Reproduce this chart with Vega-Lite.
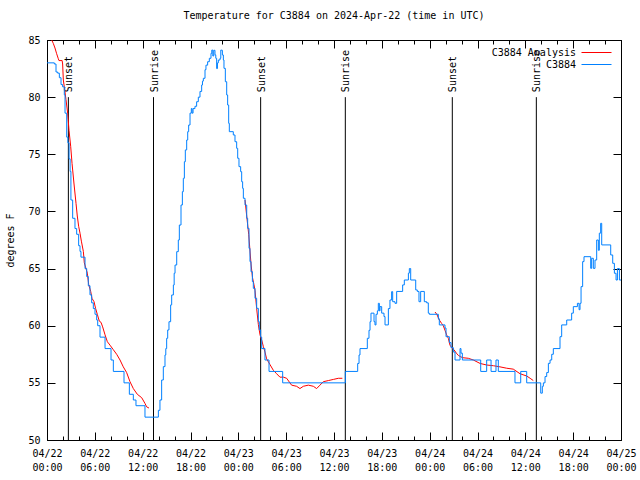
{
  "$schema": "https://vega.github.io/schema/vega-lite/v6.json",
  "width": 574,
  "height": 400,
  "autosize": {"type": "none"},
  "padding": {"left": 47, "top": 40, "right": 19, "bottom": 40},
  "title": {"text": "Temperature for C3884 on 2024-Apr-22 (time in UTC)", "font": "DejaVu Sans Mono", "fontSize": 10, "fontWeight": "normal", "offset": 14, "color": "black"},
  "config": {
    "view": {"stroke": "black", "strokeWidth": 1},
    "axis": {"grid": false, "domainColor": "black", "tickColor": "black", "labelColor": "black", "titleColor": "black", "labelFont": "DejaVu Sans Mono", "labelFontSize": 10, "titleFont": "DejaVu Sans Mono", "titleFontSize": 10, "titleFontWeight": "normal"},
    "legend": {"orient": "top-right", "offset": 7, "symbolType": "M-3,0H3", "symbolSize": 100, "symbolStrokeWidth": 1, "labelAlign": "right", "labelOffset": -26, "labelFont": "DejaVu Sans Mono", "labelFontSize": 10, "labelColor": "black", "title": null, "padding": 0, "rowPadding": 1}
  },
  "datasets": {
    "obs": [
      {"h":0,"T":83.0},{"h":0.92,"T":82.9},{"h":1.13,"T":82.2},{"h":1.34,"T":82.1},{"h":1.55,"T":81.7},{"h":1.76,"T":81.1},{"h":1.96,"T":80.9},{"h":2.17,"T":80.2},{"h":2.26,"T":78.6},{"h":2.47,"T":76.5},{"h":2.62,"T":76.0},{"h":2.77,"T":74.6},{"h":2.9,"T":73.5},{"h":3.0,"T":71.0},{"h":3.22,"T":69.4},{"h":3.51,"T":68.5},{"h":3.72,"T":68.0},{"h":3.97,"T":67.0},{"h":4.14,"T":66.5},{"h":4.26,"T":66.0},{"h":4.77,"T":65.0},{"h":4.98,"T":64.3},{"h":5.18,"T":63.5},{"h":5.39,"T":62.7},{"h":5.6,"T":62.0},{"h":5.81,"T":61.5},{"h":6.02,"T":61.0},{"h":6.23,"T":60.5},{"h":6.36,"T":60.0},{"h":6.65,"T":59.0},{"h":7.28,"T":58.0},{"h":8.03,"T":57.0},{"h":8.32,"T":56.0},{"h":9.66,"T":55.0},{"h":10.33,"T":54.0},{"h":10.83,"T":53.5},{"h":11.16,"T":53.0},{"h":12.29,"T":52.0},
      {"h":13.97,"T":52.6},{"h":14.17,"T":53.5},{"h":14.38,"T":55.25},{"h":14.59,"T":56.42},{"h":14.8,"T":57.44},{"h":14.9,"T":58.0},{"h":15.01,"T":58.9},{"h":15.14,"T":59.63},{"h":15.3,"T":60.35},{"h":15.51,"T":61.82},{"h":15.64,"T":62.69},{"h":15.85,"T":63.56},{"h":15.95,"T":64.59},{"h":16.06,"T":65.31},{"h":16.27,"T":66.48},{"h":16.47,"T":67.5},{"h":16.6,"T":68.81},{"h":16.81,"T":70.56},{"h":16.98,"T":71.73},{"h":17.1,"T":72.9},{"h":17.23,"T":74.35},{"h":17.35,"T":75.38},{"h":17.52,"T":76.25},{"h":17.65,"T":76.98},{"h":17.77,"T":77.56},{"h":17.94,"T":78.6},{"h":18.1,"T":79.0},{"h":18.2,"T":78.6},{"h":18.32,"T":79.0},{"h":18.56,"T":79.2},{"h":18.77,"T":79.6},{"h":18.98,"T":80.0},{"h":19.19,"T":80.5},{"h":19.4,"T":81.06},{"h":19.5,"T":81.4},{"h":19.61,"T":81.65},{"h":19.82,"T":82.4},{"h":19.94,"T":82.8},{"h":20.15,"T":83.1},{"h":20.36,"T":83.4},{"h":20.57,"T":83.83},{"h":20.67,"T":84.12},{"h":20.8,"T":83.6},{"h":20.92,"T":84.1},{"h":21.07,"T":83.7},{"h":21.17,"T":83.4},{"h":21.28,"T":82.5},{"h":21.38,"T":83.0},{"h":21.49,"T":83.25},{"h":21.7,"T":83.4},{"h":21.8,"T":84.12},{"h":21.91,"T":84.1},{"h":22.0,"T":83.69},{"h":22.12,"T":83.25},{"h":22.2,"T":82.52},{"h":22.37,"T":81.35},{"h":22.54,"T":80.19},{"h":22.66,"T":79.31},{"h":22.79,"T":77.71},{"h":22.87,"T":76.98},{"h":23.37,"T":76.69},{"h":23.58,"T":76.1},{"h":23.79,"T":75.52},{"h":23.92,"T":74.65},{"h":24.08,"T":73.92},{"h":24.29,"T":73.48},{"h":24.42,"T":72.6},{"h":24.54,"T":72.02},{"h":24.63,"T":71.15},{"h":24.84,"T":70.56},{"h":25.05,"T":69.4},{"h":25.17,"T":68.52},{"h":25.34,"T":66.77},{"h":25.46,"T":65.61},{"h":25.59,"T":64.73},{"h":25.76,"T":63.86},{"h":25.88,"T":63.27},{"h":26.09,"T":62.4},{"h":26.3,"T":61.52},{"h":26.51,"T":60.36},{"h":26.63,"T":59.63},{"h":26.8,"T":59.0},{"h":26.93,"T":58.0},{"h":27.34,"T":57.0},{"h":27.85,"T":56.0},{"h":29.56,"T":55.0},
      {"h":37.42,"T":56.0},{"h":38.97,"T":56.7},{"h":39.14,"T":57.44},{"h":39.26,"T":58.0},{"h":40.18,"T":58.9},{"h":40.39,"T":59.6},{"h":40.52,"T":60.35},{"h":40.64,"T":61.1},{"h":41.02,"T":60.35},{"h":41.14,"T":60.07},{"h":41.27,"T":61.0},{"h":41.44,"T":61.3},{"h":41.56,"T":61.96},{"h":41.69,"T":61.3},{"h":41.77,"T":61.67},{"h":41.98,"T":61.1},{"h":42.27,"T":60.8},{"h":42.4,"T":60.07},{"h":42.82,"T":61.5},{"h":43.02,"T":62.25},{"h":43.23,"T":62.98},{"h":43.36,"T":62.1},{"h":43.65,"T":61.96},{"h":43.86,"T":63.0},{"h":44.61,"T":63.57},{"h":44.82,"T":64.0},{"h":45.33,"T":64.6},{"h":45.45,"T":65.0},{"h":45.62,"T":64.0},{"h":46.25,"T":63.13},{"h":46.45,"T":63.0},{"h":46.66,"T":62.1},{"h":46.87,"T":63.0},{"h":47.33,"T":62.1},{"h":47.62,"T":62.0},{"h":47.83,"T":61.1},{"h":47.96,"T":61.0},{"h":49.09,"T":60.6},{"h":49.21,"T":60.07},{"h":49.92,"T":59.8},{"h":50.05,"T":59.04},{"h":50.47,"T":58.52},{"h":50.68,"T":58.08},{"h":50.97,"T":57.7},{"h":51.18,"T":57.0},{"h":51.81,"T":58.0},{"h":51.93,"T":57.6},{"h":52.1,"T":57.0},{"h":54.4,"T":56.0},{"h":55.15,"T":57.0},{"h":55.7,"T":56.0},{"h":56.32,"T":57.0},{"h":56.61,"T":56.0},{"h":58.7,"T":55.0},{"h":59.42,"T":56.0},{"h":60.17,"T":55.0},
      {"h":61.93,"T":54.1},{"h":62.13,"T":54.7},{"h":62.26,"T":55.0},{"h":62.47,"T":55.55},{"h":62.68,"T":55.9},{"h":62.89,"T":56.71},{"h":63.1,"T":57.0},{"h":63.31,"T":57.5},{"h":63.51,"T":58.0},{"h":64.35,"T":59.04},{"h":64.56,"T":60.07},{"h":65.19,"T":60.5},{"h":65.81,"T":61.1},{"h":66.02,"T":61.67},{"h":66.53,"T":61.96},{"h":66.74,"T":61.4},{"h":66.86,"T":61.96},{"h":66.99,"T":63.42},{"h":67.19,"T":65.61},{"h":67.36,"T":66.04},{"h":68.2,"T":65.02},{"h":68.32,"T":65.9},{"h":68.53,"T":65.02},{"h":68.74,"T":65.75},{"h":68.95,"T":67.5},{"h":69.16,"T":66.6},{"h":69.28,"T":68.1},{"h":69.45,"T":68.96},{"h":69.58,"T":67.07},{"h":70.71,"T":66.19},{"h":70.96,"T":65.46},{"h":71.17,"T":64.59},{"h":71.38,"T":64.0},{"h":71.55,"T":65.0},{"h":71.8,"T":64.0},{"h":72.0,"T":64.0}
    ],
    "ana": [
      {"seg":1,"h":0.59,"T":85.0},{"seg":1,"h":0.79,"T":84.7},{"seg":1,"h":1.0,"T":84.3},{"seg":1,"h":1.21,"T":83.8},{"seg":1,"h":1.4,"T":83.4},{"seg":1,"h":1.5,"T":83.2},{"seg":1,"h":1.9,"T":83.2},{"seg":1,"h":1.96,"T":82.9},{"seg":1,"h":2.05,"T":81.5},{"seg":1,"h":2.17,"T":80.9},{"seg":1,"h":2.38,"T":79.8},{"seg":1,"h":2.59,"T":78.6},{"seg":1,"h":2.76,"T":77.1},{"seg":1,"h":2.97,"T":75.7},{"seg":1,"h":3.14,"T":74.2},{"seg":1,"h":3.39,"T":72.4},{"seg":1,"h":3.64,"T":70.7},{"seg":1,"h":3.8,"T":69.6},{"seg":1,"h":3.97,"T":68.7},{"seg":1,"h":4.14,"T":68.1},{"seg":1,"h":4.31,"T":67.4},{"seg":1,"h":4.56,"T":66.5},{"seg":1,"h":4.68,"T":65.5},{"seg":1,"h":5.06,"T":64.6},{"seg":1,"h":5.23,"T":63.6},{"seg":1,"h":5.48,"T":63.0},{"seg":1,"h":5.64,"T":62.4},{"seg":1,"h":5.9,"T":62.1},{"seg":1,"h":6.1,"T":61.5},{"seg":1,"h":6.31,"T":61.0},{"seg":1,"h":6.56,"T":60.4},{"seg":1,"h":6.77,"T":60.3},{"seg":1,"h":6.98,"T":59.9},{"seg":1,"h":7.28,"T":59.2},{"seg":1,"h":7.57,"T":58.6},{"seg":1,"h":7.9,"T":58.3},{"seg":1,"h":8.32,"T":57.9},{"seg":1,"h":8.74,"T":57.5},{"seg":1,"h":9.16,"T":57.0},{"seg":1,"h":9.57,"T":56.4},{"seg":1,"h":9.99,"T":55.9},{"seg":1,"h":10.41,"T":55.1},{"seg":1,"h":10.83,"T":54.5},{"seg":1,"h":11.33,"T":54.0},{"seg":1,"h":11.88,"T":53.7},{"seg":1,"h":12.29,"T":53.2},{"seg":1,"h":12.5,"T":52.9},{"seg":1,"h":12.79,"T":52.8},
      {"seg":2,"h":24.84,"T":71.0},{"seg":2,"h":25.05,"T":69.6},{"seg":2,"h":25.3,"T":68.0},{"seg":2,"h":25.59,"T":65.4},{"seg":2,"h":25.78,"T":64.2},{"seg":2,"h":25.96,"T":63.6},{"seg":2,"h":26.09,"T":63.1},{"seg":2,"h":26.3,"T":61.5},{"seg":2,"h":26.51,"T":60.1},{"seg":2,"h":26.72,"T":59.2},{"seg":2,"h":26.93,"T":58.75},{"seg":2,"h":27.13,"T":58.2},{"seg":2,"h":27.34,"T":57.7},{"seg":2,"h":27.55,"T":57.1},{"seg":2,"h":27.97,"T":56.6},{"seg":2,"h":28.39,"T":56.1},{"seg":2,"h":28.8,"T":55.8},{"seg":2,"h":29.22,"T":55.5},{"seg":2,"h":29.64,"T":55.5},{"seg":2,"h":30.06,"T":55.4},{"seg":2,"h":30.68,"T":54.8},{"seg":2,"h":31.31,"T":54.7},{"seg":2,"h":31.73,"T":54.5},{"seg":2,"h":32.15,"T":54.7},{"seg":2,"h":32.78,"T":54.8},{"seg":2,"h":33.41,"T":54.7},{"seg":2,"h":33.82,"T":54.5},{"seg":2,"h":34.24,"T":54.8},{"seg":2,"h":34.66,"T":55.1},{"seg":2,"h":35.29,"T":55.2},{"seg":2,"h":35.92,"T":55.3},{"seg":2,"h":36.54,"T":55.4},{"seg":2,"h":37.05,"T":55.4},
      {"seg":3,"h":48.67,"T":61.2},{"seg":3,"h":48.9,"T":61.0},{"seg":3,"h":49.21,"T":60.5},{"seg":3,"h":49.5,"T":60.2},{"seg":3,"h":49.71,"T":60.0},{"seg":3,"h":49.92,"T":59.6},{"seg":3,"h":50.13,"T":59.2},{"seg":3,"h":50.34,"T":58.9},{"seg":3,"h":50.55,"T":58.3},{"seg":3,"h":50.76,"T":58.1},{"seg":3,"h":51.05,"T":57.9},{"seg":3,"h":51.35,"T":57.6},{"seg":3,"h":51.6,"T":57.4},{"seg":3,"h":51.85,"T":57.3},{"seg":3,"h":52.14,"T":57.2},{"seg":3,"h":52.85,"T":57.15},{"seg":3,"h":53.48,"T":57.0},{"seg":3,"h":54.32,"T":56.7},{"seg":3,"h":55.15,"T":56.56},{"seg":3,"h":55.99,"T":56.5},{"seg":3,"h":56.82,"T":56.4},{"seg":3,"h":57.66,"T":56.28},{"seg":3,"h":58.49,"T":56.2},{"seg":3,"h":59.33,"T":55.8},{"seg":3,"h":60.17,"T":55.6},{"seg":3,"h":60.6,"T":55.4},{"seg":3,"h":61.0,"T":55.2}
    ],
    "sun": [
      {"h":2.68,"event":"Sunset","top":80,"bottom":50},
      {"h":13.36,"event":"Sunrise","top":80,"bottom":50},
      {"h":26.8,"event":"Sunset","top":80,"bottom":50},
      {"h":37.42,"event":"Sunrise","top":80,"bottom":50},
      {"h":50.84,"event":"Sunset","top":80,"bottom":50},
      {"h":61.38,"event":"Sunrise","top":80,"bottom":50}
    ]
  },
  "resolve": {"axis": {"x": "independent", "y": "independent"}},
  "layer": [
    {
      "data": {"name": "sun"},
      "mark": {"type": "rule", "color": "black", "strokeWidth": 1},
      "encoding": {
        "x": {"field": "h", "type": "quantitative", "scale": {"domain": [0, 72], "nice": false, "zero": false},
          "axis": {"orient": "bottom", "values": [0,2,4,6,8,10,12,14,16,18,20,22,24,26,28,30,32,34,36,38,40,42,44,46,48,50,52,54,56,58,60,62,64,66,68,70,72],
            "labelExpr": "datum.value % 6 == 0 ? ['04/' + (22 + floor(datum.value / 24)), (datum.value % 24 < 10 ? '0' : '') + (datum.value % 24) + ':00'] : ''",
            "tickSize": {"condition": {"test": "datum.value % 6 == 0", "value": -8}, "value": -4},
            "labelPadding": 16, "labelLineHeight": 14, "labelBaseline": "top", "labelOverlap": false, "labelFlush": false, "title": null, "domain": true}},
        "y": {"field": "bottom", "type": "quantitative", "scale": {"domain": [50, 85], "nice": false, "zero": false},
          "axis": {"orient": "left", "values": [50,55,60,65,70,75,80,85], "tickSize": -8, "labelPadding": 15, "title": "degrees F", "titlePadding": 12}},
        "y2": {"field": "top"}
      }
    },
    {
      "data": {"name": "sun"},
      "mark": {"type": "text", "angle": 270, "align": "left", "baseline": "middle", "dx": 5, "dy": 1, "font": "DejaVu Sans Mono", "fontSize": 10, "color": "black"},
      "encoding": {
        "x": {"field": "h", "type": "quantitative",
          "axis": {"orient": "top", "values": [0,2,4,6,8,10,12,14,16,18,20,22,24,26,28,30,32,34,36,38,40,42,44,46,48,50,52,54,56,58,60,62,64,66,68,70,72], "labels": false, "title": null,
            "tickSize": {"condition": {"test": "datum.value % 6 == 0", "value": -8}, "value": -4}}},
        "y": {"field": "top", "type": "quantitative",
          "axis": {"orient": "right", "values": [50,55,60,65,70,75,80,85], "labels": false, "title": null, "tickSize": -8}},
        "text": {"field": "event"}
      }
    },
    {
      "data": {"name": "ana"},
      "mark": {"type": "line", "interpolate": "linear", "strokeWidth": 1, "clip": true},
      "encoding": {
        "x": {"field": "h", "type": "quantitative", "axis": null},
        "y": {"field": "T", "type": "quantitative", "axis": null},
        "detail": {"field": "seg"},
        "color": {"datum": "C3884 Analysis", "type": "nominal", "scale": {"domain": ["C3884 Analysis", "C3884"], "range": ["#ff0000", "#0080ff"]}}
      }
    },
    {
      "data": {"name": "obs"},
      "mark": {"type": "line", "interpolate": "step-after", "strokeWidth": 1, "clip": true},
      "encoding": {
        "x": {"field": "h", "type": "quantitative", "axis": null},
        "y": {"field": "T", "type": "quantitative", "axis": null},
        "color": {"datum": "C3884", "type": "nominal"}
      }
    }
  ]
}
